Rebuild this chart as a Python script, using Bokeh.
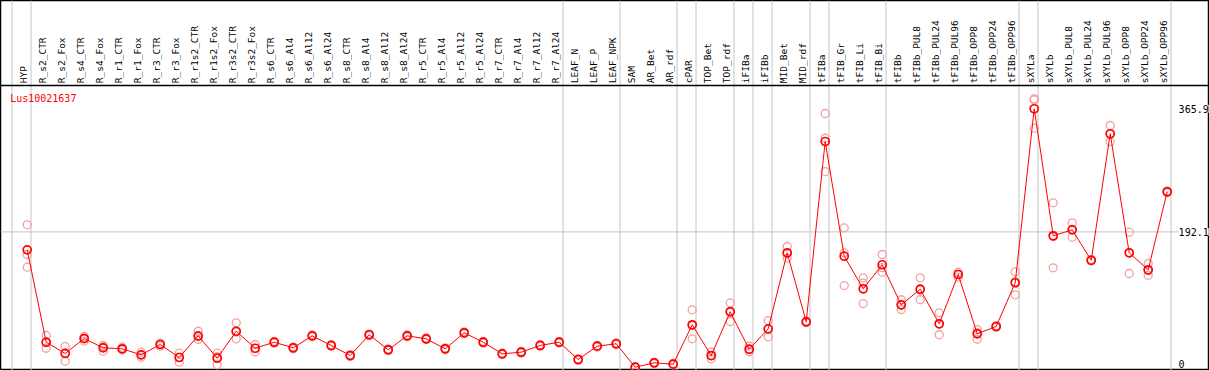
import math
from bokeh.plotting import figure
from bokeh.models import Range1d, Span, ColumnDataSource
from bokeh.core.properties import value
from bokeh.embed import file_html
from bokeh.resources import INLINE

gene = "Lus10021637"

groups = [
    ["HYP"],
    ["R_s2_CTR", "R_s2_Fox", "R_s4_CTR", "R_s4_Fox", "R_r1_CTR", "R_r1_Fox",
     "R_r3_CTR", "R_r3_Fox", "R_r1s2_CTR", "R_r1s2_Fox", "R_r3s2_CTR", "R_r3s2_Fox",
     "R_s6_CTR", "R_s6_Al4", "R_s6_Al12", "R_s6_Al24", "R_s8_CTR", "R_s8_Al4",
     "R_s8_Al12", "R_s8_Al24", "R_r5_CTR", "R_r5_Al4", "R_r5_Al12", "R_r5_Al24",
     "R_r7_CTR", "R_r7_Al4", "R_r7_Al12", "R_r7_Al24"],
    ["LEAF_N", "LEAF_P", "LEAF_NPK"],
    ["SAM", "AR_Bet", "AR_rdf"],
    ["cPAR"],
    ["TOP_Bet", "TOP_rdf"],
    ["iFIBa"],
    ["iFIBb"],
    ["MID_Bet", "MID_rdf"],
    ["tFIBa"],
    ["tFIB_Gr", "tFIB_Li", "tFIB_Bi"],
    ["tFIBb", "tFIBb_PUL8", "tFIBb_PUL24", "tFIBb_PUL96", "tFIBb_OPP8",
     "tFIBb_OPP24", "tFIBb_OPP96"],
    ["sXYLa"],
    ["sXYLb", "sXYLb_PUL8", "sXYLb_PUL24", "sXYLb_PUL96", "sXYLb_OPP8",
     "sXYLb_OPP24", "sXYLb_OPP96"],
]
categories = [c for g in groups for c in g]

means = [166.8, 36.4, 20.5, 41.6, 28.5, 27.1, 18.6, 33.2, 14.8, 45.4, 13.8, 51.9, 27.9,
         36.4, 28.5, 45.4, 31.8, 17.6, 46.9, 25.7, 45.4, 41.2, 27.1, 49.7, 36.4,
         20.0, 22.3, 31.8, 36.4, 12.0, 30.8, 34.2, 1.1, 7.3, 5.4, 61.0, 17.6, 79.3,
         26.5, 55.3, 162.6, 65.2, 319.7, 157.8, 111.8, 145.7, 89.2, 111.2, 62.4,
         132.0, 48.3, 58.6, 120.3, 365.9, 186.6, 195.0, 152.1, 330.6, 162.6, 138.6, 248.7]
rep1 = [202.1, 45.9, 30.3, 44.5, 31.8, 29.4, 22.3, 35.0, 20.9, 51.9, 20.9, 63.8, 33.2,
        37.5, 29.8, 46.8, 33.0, 18.9, 48.3, 27.0, 46.6, 42.5, 28.4, 51.0, 37.7,
        21.2, 23.5, 33.1, 37.6, 13.2, 32.0, 35.4, 2.0, 8.4, 6.5, 82.1, 22.3, 92.0,
        30.8, 67.0, 171.5, 66.4, 359.2, 197.9, 127.3, 160.2, 96.3, 127.3, 77.9,
        135.2, 54.3, 59.8, 135.8, 379.9, 233.2, 204.9, 153.3, 342.3, 191.7, 147.5, 249.9]
rep2 = [160.2, 27.9, 9.6, 37.8, 23.7, 25.7, 15.2, 30.8, 8.2, 40.2, 4.5, 41.2, 22.9,
        35.0, 27.0, 44.0, 30.5, 16.3, 45.5, 24.4, 44.1, 40.0, 25.8, 48.4, 35.1,
        18.8, 21.0, 30.6, 35.2, 10.8, 29.6, 33.0, 0.3, 6.2, 4.3, 41.2, 13.0, 65.6,
        22.9, 44.0, 155.0, 64.0, 324.3, 162.6, 119.7, 135.2, 82.6, 96.3, 46.9,
        128.2, 40.6, 57.4, 103.3, 378.5, 141.4, 184.6, 150.9, 319.7, 133.4, 131.0, 247.5]
rep3 = [142.3, 36.0, 21.0, 42.5, 30.0, 26.5, 18.4, 33.8, 15.3, 44.1, 16.0, 50.7, 27.6,
        36.7, 28.7, 45.4, 31.9, 17.6, 46.9, 25.7, 45.5, 41.1, 27.1, 49.7, 36.4,
        20.0, 22.4, 31.7, 36.4, 12.0, 30.8, 34.2, 1.0, 7.3, 5.4, 59.7, 17.5, 80.3,
        25.8, 55.0, 161.3, 65.2, 277.3, 116.4, 91.0, 141.7, 88.7, 110.0, 62.4,
        132.6, 50.0, 58.6, 121.8, 338.5, 185.2, 195.5, 152.1, 329.8, 162.7, 137.3, 248.7]

y_ticks = [0, 192.1, 365.9]
y_tick_labels = ["0", "192.1", "365.9"]

MONO = value("DejaVu Sans Mono")

p = figure(width=1209, height=370,
           x_range=Range1d(-1.405, 62.226), y_range=Range1d(-3.53, 518.7),
           output_backend="svg", toolbar_location=None, min_border=0,
           x_axis_location=None, y_axis_location=None)
p.grid.visible = False
p.outline_line_color = "black"
p.outline_line_width = 1.5
p.background_fill_color = "white"
p.border_fill_color = "white"

# group separator lines
ends = [-1]
n = 0
for g in groups:
    n += len(g)
    ends.append(n - 1)
for e in ends:
    p.add_layout(Span(location=e + 0.2, dimension="height", line_color="#c4c4c4",
                      line_width=1, level="underlay"))

# label / plot separator and horizontal grid
p.add_layout(Span(location=398.7, dimension="width", line_color="black", line_width=1.5))
p.add_layout(Span(location=192.1, dimension="width", line_color="#c4c4c4",
                  line_width=1, level="underlay"))

x = list(range(len(categories)))
src = ColumnDataSource(dict(x=x, mean=means, r1=rep1, r2=rep2, r3=rep3, label=categories))

for col in ["r1", "r2", "r3"]:
    p.scatter("x", col, source=src, marker="circle", size=8, fill_alpha=0,
              line_color="#f2a0a0", line_width=1.3)
p.line("x", "mean", source=src, line_color="#ff0000", line_width=1)
p.scatter("x", "mean", source=src, marker="circle", size=8, fill_alpha=0,
          line_color="#ff0000", line_width=1.7)

# category labels (vertical)
p.text(x="x", y=402.0, text="label", source=src, angle=math.pi / 2, x_offset=-4,
       text_align="left", text_baseline="middle", text_font=MONO,
       text_font_size="9.5px", text_color="black")

# gene name
p.text(x=[-0.895], y=[380.8], text=[gene], text_align="left", text_baseline="middle",
       text_font=MONO, text_font_size="10px", text_color="#ff0000")

# value labels on the right
for t, lab in zip(y_ticks, y_tick_labels):
    p.text(x=[60.6], y=[t], text=[lab], text_align="left",
           text_baseline="bottom" if t == min(y_ticks) else "middle",
           text_font=MONO, text_font_size="10px", text_color="black",
           background_fill_color="white")

open("out.html", "w").write(file_html(p, INLINE))
